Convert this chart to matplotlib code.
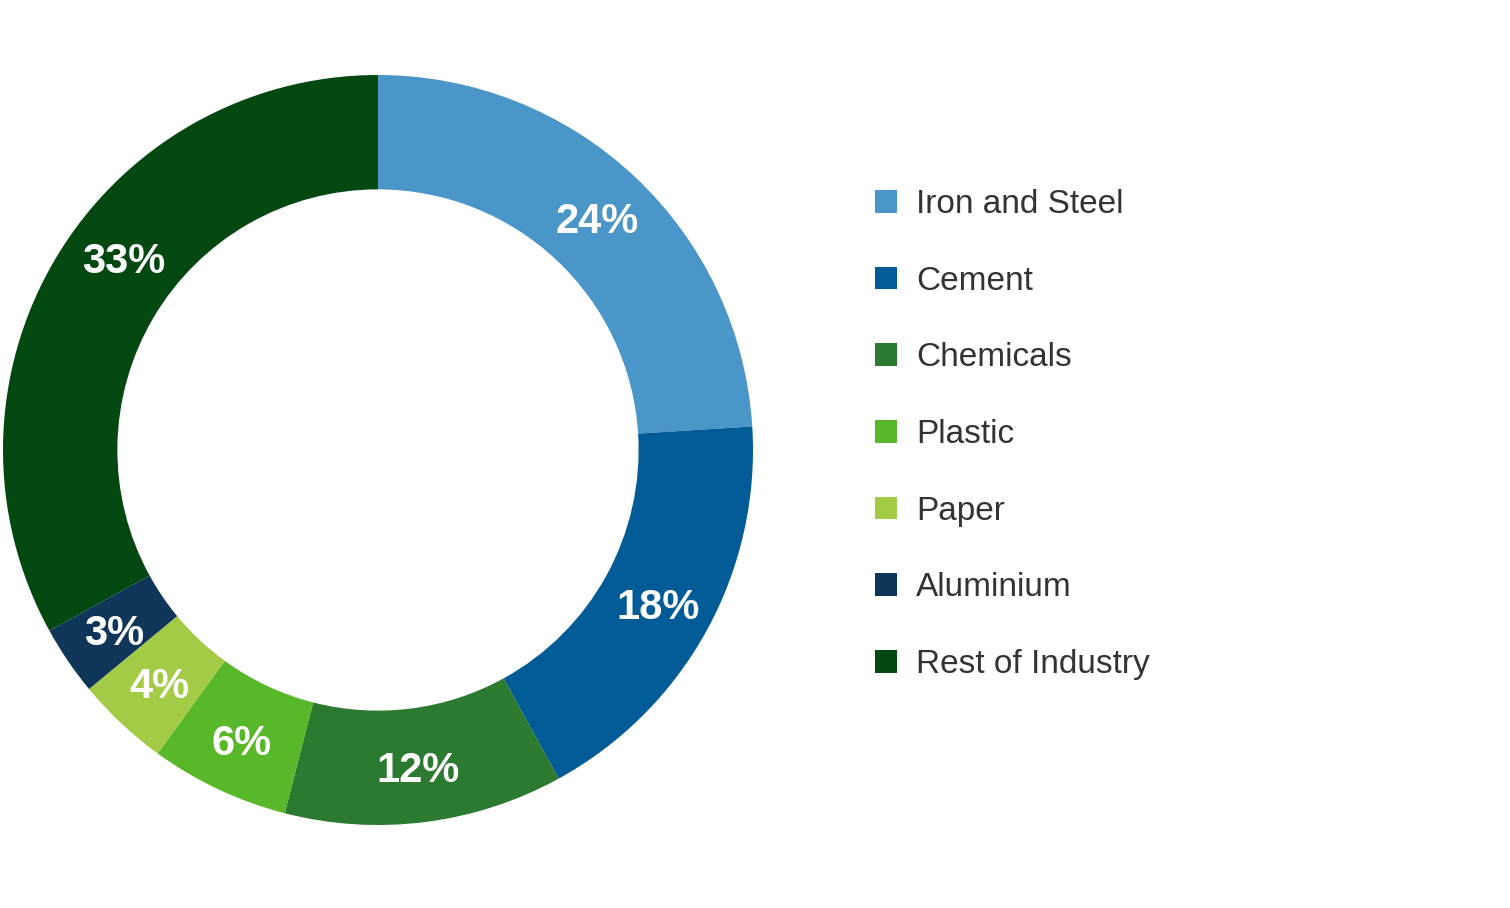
import numpy as np
import matplotlib.pyplot as plt
from matplotlib.patches import Patch

plt.rcParams['font.family'] = ['Liberation Sans', 'DejaVu Sans']

# Data
sectors = ["Iron and Steel", "Cement", "Chemicals", "Plastic", "Paper",
           "Aluminium", "Rest of Industry"]
shares = [24, 18, 12, 6, 4, 3, 33]
colors = ["#4A96C8", "#005B97", "#2B7A2F", "#58B82A", "#A4CB45",
          "#0F3659", "#034711"]
# small manual nudges of the label angle (degrees)
label_nudge = [0, 0, 0, 0, 0, 0, -6.5]

W, H = 1510, 908
fig = plt.figure(figsize=(W / 100, H / 100), dpi=100)

# donut axes: center (378, 450) px from top, radius 375 px
cx, cy, r = 378, 450, 375
ax = fig.add_axes([(cx - r) / W, (H - cy - r) / H, 2 * r / W, 2 * r / H])

wedges, _ = ax.pie(shares, colors=colors, startangle=90, counterclock=False,
                   radius=1.0, wedgeprops=dict(width=0.305, linewidth=0))
ax.set_xlim(-1, 1)
ax.set_ylim(-1, 1)
ax.axis("off")

# percentage labels in the middle of the ring
for w, v, dn in zip(wedges, shares, label_nudge):
    ang = np.radians((w.theta1 + w.theta2) / 2 + dn)
    rr = 0.852
    ax.text(rr * np.cos(ang), rr * np.sin(ang), f"{v}%", ha="center",
            va="center_baseline", color="white", fontsize=30,
            fontweight="bold")

# legend
handles = [Patch(facecolor=c, edgecolor="none") for c in colors]
leg = fig.legend(handles, sectors, loc="upper left",
                 bbox_to_anchor=(875 / W, 1 - 189 / H), frameon=False,
                 fontsize=24, handlelength=0.66, handleheight=0.66,
                 handletextpad=0.57, labelspacing=1.37, borderpad=0,
                 borderaxespad=0)
for t in leg.get_texts():
    t.set_color("#333333")

fig.savefig("out.png", dpi=100)
